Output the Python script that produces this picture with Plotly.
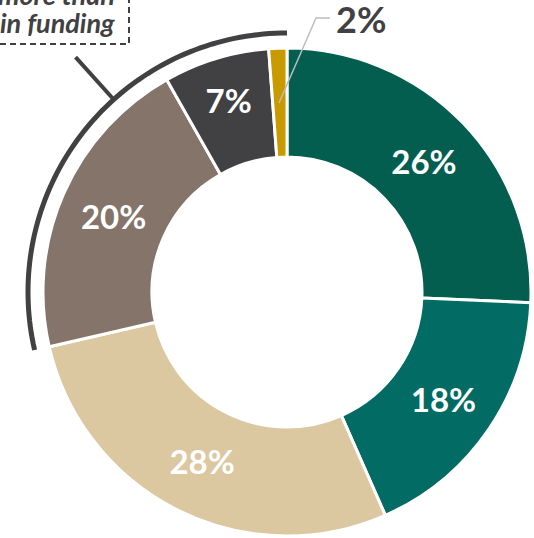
import numpy as np
import plotly.graph_objects as go

# ---- data ----
categories = ["A", "B", "C", "D", "E", "F"]
values = [25.7, 17.7, 28.0, 20.4, 7.0, 1.2]
labels_text = ["26%", "18%", "28%", "20%", "7%", "2%"]
colors = ["#035E50", "#026B63", "#DBC8A0", "#847469", "#414042", "#C99A00"]
highlight_from = 3  # slices covered by the outline arc (D, E, F)
callout_lines = ["more than", "in funding"]

W, H = 534, 538
CX, CY, R_OUT, R_IN = 287, 292, 244, 135


def px(x):
    return x / W


def py(y):
    return 1 - y / H


inside_text = [t if i < 5 else "" for i, t in enumerate(labels_text)]

fig = go.Figure()
fig.add_trace(go.Pie(
    labels=categories,
    values=values,
    text=inside_text,
    textinfo="text",
    textposition="inside",
    insidetextorientation="horizontal",
    sort=False,
    direction="clockwise",
    rotation=0,
    hole=R_IN / R_OUT,
    marker=dict(colors=colors, line=dict(color="white", width=3)),
    textfont=dict(family="Lato", size=33, color="white", weight=700),
    domain=dict(x=[px(CX - R_OUT), px(CX + R_OUT)], y=[py(CY + R_OUT), py(CY - R_OUT)]),
    showlegend=False,
    hoverinfo="skip",
))

# outline arc around the highlighted slices
total = sum(values)
start_frac = sum(values[:highlight_from]) / total
angles = np.linspace(start_frac * 2 * np.pi, 2 * np.pi, 80)
R_ARC = 259
pts = [(CX + R_ARC * np.sin(a), CY - R_ARC * np.cos(a)) for a in angles]
path = "M " + " L ".join(f"{px(x):.5f},{py(y):.5f}" for x, y in pts)

shapes = [
    dict(type="path", path=path, xref="paper", yref="paper",
         line=dict(color="#414042", width=5)),
]
# radial tick from arc to callout box
a_tick = np.deg2rad(318)
x0, y0 = CX + 259 * np.sin(a_tick), CY - 259 * np.cos(a_tick)
x1, y1 = CX + 316 * np.sin(a_tick), CY - 316 * np.cos(a_tick)
shapes.append(dict(type="line", xref="paper", yref="paper",
                   x0=px(x0), y0=py(y0), x1=px(x1), y1=py(y1),
                   line=dict(color="#414042", width=4)))
# dashed callout box
shapes.append(dict(type="rect", xref="paper", yref="paper",
                   x0=px(-20), y0=py(44), x1=px(129), y1=py(-20),
                   line=dict(color="#414042", width=2, dash="6px,4px")))
# leader line for small slice
shapes.append(dict(type="path", xref="paper", yref="paper",
                   path=f"M {px(279)},{py(103)} L {px(316)},{py(18)} L {px(330)},{py(18)}",
                   line=dict(color="#BDBDBD", width=1.5)))

callout_font = dict(family="Lato", size=27, color="#414042", weight=700, style="italic")
annotations = [
    dict(text=labels_text[5], xref="paper", yref="paper", x=px(334), y=py(19),
         xanchor="left", yanchor="middle", showarrow=False,
         font=dict(family="Lato", size=36, color="#414042", weight=700)),
    dict(text=callout_lines[0], xref="paper", yref="paper",
         x=px(117), y=py(13), xanchor="right", yanchor="bottom", align="right",
         showarrow=False, font=callout_font),
    dict(text=callout_lines[1], xref="paper", yref="paper",
         x=px(117), y=py(41), xanchor="right", yanchor="bottom", align="right",
         showarrow=False, font=callout_font),
]

fig.update_layout(
    width=W, height=H, autosize=False,
    margin=dict(l=0, r=0, t=0, b=0),
    paper_bgcolor="white", plot_bgcolor="white",
    shapes=shapes, annotations=annotations,
)

fig.write_html("out.html", config={"displayModeBar": False},
               post_script="document.body.style.margin='0';")
